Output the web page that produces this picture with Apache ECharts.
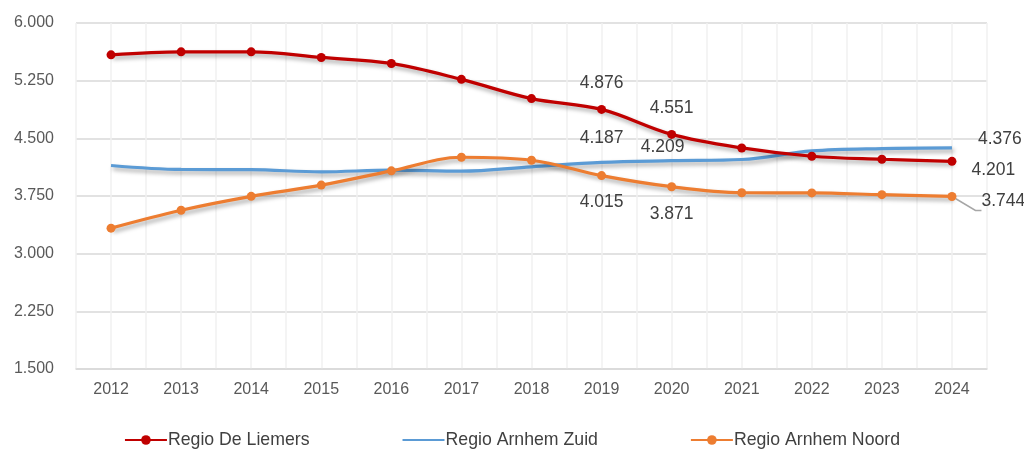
<!DOCTYPE html>
<html>
<head>
<meta charset="utf-8">
<script src="https://cdn.jsdelivr.net/npm/echarts@6/dist/echarts.min.js"></script>
<style>
    html, body { margin: 0; padding: 0; background: #fff; }
    #chart { width: 1024px; height: 450px; }
</style>
</head>
<body>
<div id="chart"></div>
<script>
var years = [2012, 2013, 2014, 2015, 2016, 2017, 2018, 2019, 2020, 2021, 2022, 2023, 2024];
var seriesNames = ['Regio De Liemers', 'Regio Arnhem Zuid', 'Regio Arnhem Noord'];
var deLiemers = [5586, 5625, 5625, 5552, 5474, 5267, 5017, 4876, 4551, 4375, 4267, 4228, 4201];
var arnhemZuid = [4147, 4095, 4093, 4064, 4086, 4073, 4130, 4187, 4209, 4225, 4336, 4367, 4376];
var arnhemNoord = [3332, 3565, 3746, 3892, 4077, 4254, 4215, 4015, 3871, 3793, 3790, 3767, 3744];
var yTicks = [1500, 2250, 3000, 3750, 4500, 5250, 6000];

// alleen deze punten krijgen een label
var labelled = [7, 8, 12];

function fmt(v) {
    return String(Math.round(v)).replace(/\B(?=(\d{3})+(?!\d))/g, '.');
}

// label stijl per serie per punt
var labelCfg = {
    0: {
        7: {position: 'top', distance: 13},
        8: {position: 'top', distance: 13},
        12: {position: 'right', distance: 15, offset: [0, 9]}
    },
    1: {
        7: {position: 'top', distance: 14},
        8: {position: 'top', distance: 4, offset: [-9, 0]},
        12: {position: 'right', distance: 25, offset: [0, -9]}
    },
    2: {
        7: {position: 'bottom', distance: 13},
        8: {position: 'bottom', distance: 14},
        12: {position: 'right', distance: 25, offset: [0, 5], line: true}
    }
};

function buildData(values, s) {
    var out = [];
    for (var i = 0; i < values.length; i++) {
        var item = {value: [years[i], values[i]]};
        if (labelled.indexOf(i) > -1) {
            var c = labelCfg[s][i];
            item.label = {
                show: true,
                position: c.position,
                distance: c.distance,
                offset: c.offset || [0, 0],
                color: '#404040',
                fontSize: 17.5,
                fontFamily: 'Liberation Sans',
                formatter: function (p) { return fmt(p.value[1]); }
            };
            item.labelLine = {show: !!c.line, length2: 6, lineStyle: {color: '#a6a6a6', width: 1.5}};
        }
        out.push(item);
    }
    return out;
}

var shadow = {
    shadowColor: 'rgba(0,0,0,0.35)',
    shadowBlur: 4,
    shadowOffsetX: 2,
    shadowOffsetY: 3
};

var myChart = echarts.init(document.getElementById('chart'), null, {width: 1024, height: 450});
var option = {
    animation: false,
    textStyle: {fontFamily: 'Liberation Sans'},
    grid: {left: 76, right: 37, top: 23, bottom: 81},
    legend: {
        bottom: -4,
        left: 'center',
        itemGap: 92,
        itemWidth: 42,
        itemHeight: 12,
        textStyle: {color: '#404040', fontSize: 17.7, padding: [0, 0, 0, -4]},
        data: seriesNames
    },
    xAxis: {
        type: 'value',
        min: 2011.5,
        max: 2024.5,
        interval: 0.5,
        axisLine: {show: true, lineStyle: {color: '#d9d9d9', width: 1.5}},
        axisTick: {show: false},
        axisLabel: {
            color: '#595959',
            fontSize: 16,
            margin: 13,
            formatter: function (v) {
                return Math.abs(v - Math.round(v)) < 0.01 ? String(Math.round(v)) : '';
            }
        },
        splitLine: {show: true, lineStyle: {color: '#f0f0f0', width: 1.5}}
    },
    yAxis: {
        type: 'value',
        min: yTicks[0],
        max: yTicks[yTicks.length - 1],
        interval: 750,
        axisLine: {show: false},
        axisTick: {show: false},
        axisLabel: {
            color: '#595959',
            fontSize: 16,
            margin: 22,
            formatter: function (v) { return fmt(v); }
        },
        splitLine: {show: true, lineStyle: {color: '#d9d9d9', width: 1.5}}
    },
    series: [
        {
            name: seriesNames[0],
            type: 'line',
            smooth: 0.35,
            symbol: 'circle',
            symbolSize: 9,
            z: 3,
            itemStyle: {color: '#c00000'},
            lineStyle: Object.assign({color: '#c00000', width: 3.2}, shadow),
            data: buildData(deLiemers, 0)
        },
        {
            name: seriesNames[1],
            type: 'line',
            smooth: 0.35,
            symbol: 'circle',
            symbolSize: 2,
            z: 2,
            itemStyle: {color: 'rgba(0,0,0,0)'},
            lineStyle: Object.assign({color: '#5b9bd5', width: 3.2}, shadow),
            data: buildData(arnhemZuid, 1)
        },
        {
            name: seriesNames[2],
            type: 'line',
            smooth: 0.35,
            symbol: 'circle',
            symbolSize: 9,
            z: 2,
            itemStyle: {color: '#ed7d31'},
            lineStyle: Object.assign({color: '#ed7d31', width: 3.2}, shadow),
            data: buildData(arnhemNoord, 2)
        }
    ]
};
myChart.setOption(option, false);
</script>
</body>
</html>
